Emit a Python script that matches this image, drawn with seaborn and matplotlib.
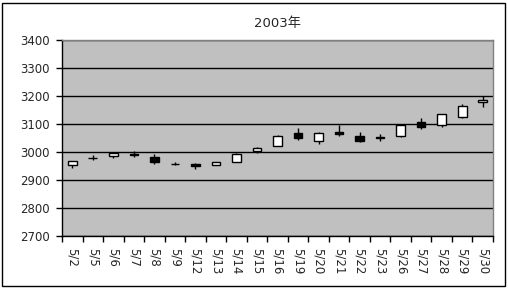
import matplotlib
matplotlib.use("Agg")
import matplotlib.pyplot as plt
import matplotlib.patches as mpatches
from matplotlib.ticker import FixedLocator
import numpy as np
import pandas as pd
import seaborn as sns

dates = ["5/2", "5/5", "5/6", "5/7", "5/8", "5/9", "5/12", "5/13", "5/14", "5/15",
         "5/16", "5/19", "5/20", "5/21", "5/22", "5/23", "5/26", "5/27", "5/28", "5/29", "5/30"]
open_ = [2955, 2980, 2986, 2992, 2982, 2957, 2958, 2954, 2966, 3002,
         3023, 3067, 3038, 3071, 3056, 3055, 3056, 3107, 3098, 3124, 3177]
close = [2968, 2980, 2995, 2988, 2965, 2957, 2950, 2964, 2993, 3014,
         3058, 3049, 3067, 3063, 3041, 3049, 3097, 3088, 3134, 3166, 3185]
high = [2969, 2990, 2998, 3004, 2993, 2964, 2961, 2966, 2997, 3019,
        3062, 3085, 3071, 3096, 3070, 3063, 3099, 3121, 3137, 3172, 3200]
low = [2943, 2970, 2977, 2983, 2957, 2952, 2939, 2953, 2965, 2997,
       3021, 3043, 3030, 3057, 3035, 3040, 3055, 3082, 3089, 3123, 3162]
yticks = [2700, 2800, 2900, 3000, 3100, 3200, 3300, 3400]
title = "2003年"

sns.set_style("white")
plt.rcParams['font.family'] = ['DejaVu Sans', 'Noto Sans CJK JP']

df = pd.DataFrame({"date": dates, "open": open_, "close": close, "high": high, "low": low})
df["bottom"] = df[["open", "close"]].min(axis=1)
df["body"] = (df["open"] - df["close"]).abs()

fig = plt.figure(figsize=(5.08, 2.88), dpi=100)
ax = fig.add_axes([62/508, 1-236/288, (493-62)/508, (236-40)/288])
ax.set_facecolor("#C0C0C0")

# wicks
x = np.arange(len(dates))
ax.vlines(x, df["low"], df["high"], color="black", lw=1.0, zorder=3)

sns.barplot(data=df, x="date", y="body", bottom=df["bottom"].to_numpy(), ax=ax,
            color="white", edgecolor="black", linewidth=1.0, width=0.42,
            errorbar=None, zorder=4)
for p, o, c in zip(ax.patches, open_, close):
    p.set_facecolor("white" if c >= o else "black")
    p.set_zorder(4)

ax.set_ylim(2700, 3400)
ax.set_xlim(-0.5, len(dates) - 0.5)
ax.set_yticks(yticks)
ax.set_yticklabels([str(v) for v in yticks], fontsize=8.5)
ax.yaxis.grid(True, color="black", lw=1.0)
ax.set_axisbelow(True)
ax.set_xlabel("")
ax.set_ylabel("")
ax.set_xticks(x)
ax.set_xticklabels(dates, rotation=270, fontsize=8.5, va="top", ha="center")
ax.xaxis.set_minor_locator(FixedLocator(np.arange(-0.5, len(dates), 1.0)))
ax.tick_params(axis="x", which="major", length=0, pad=9)
ax.tick_params(axis="x", which="minor", length=4, width=1, color="black", direction="out", bottom=True)
ax.tick_params(axis="y", which="major", length=4, width=1, color="black", direction="out", pad=5, left=True)

for s in ["top", "right"]:
    ax.spines[s].set_color("#808080")
    ax.spines[s].set_linewidth(1.0)
for s in ["left", "bottom"]:
    ax.spines[s].set_color("black")
    ax.spines[s].set_linewidth(1.0)

ax.set_title(title, fontsize=9.5, pad=9, family=['DejaVu Sans', 'Noto Sans CJK JP'])

fig.patches.append(mpatches.Rectangle((2/508, 2/288), 503/508, 283/288, transform=fig.transFigure,
                                      fill=False, edgecolor="black", lw=1.0))
fig.savefig("out.png", dpi=100, facecolor="white")
